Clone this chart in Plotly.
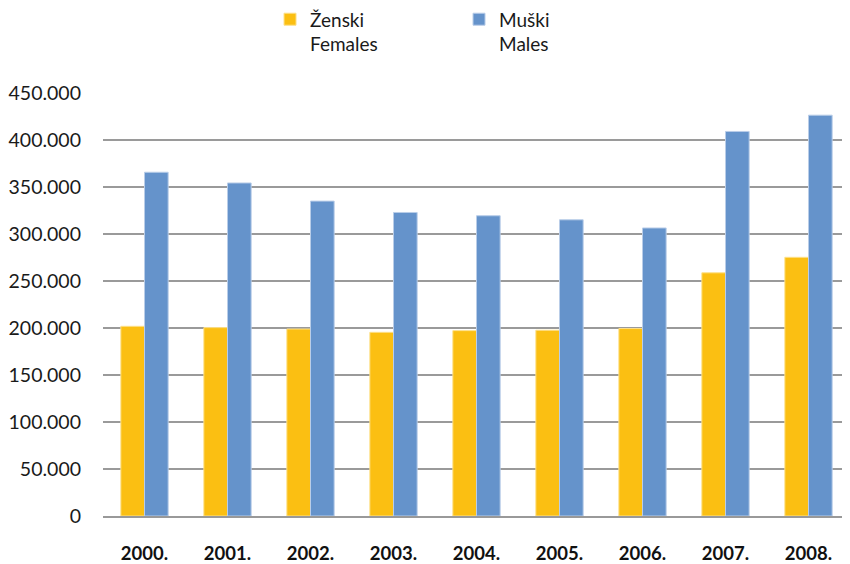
import plotly.graph_objects as go

years = ["2000.", "2001.", "2002.", "2003.", "2004.", "2005.", "2006.", "2007.", "2008."]
females = [201800, 200400, 198900, 195400, 197200, 197600, 199400, 258700, 275200]
males = [365700, 354300, 335000, 322900, 319400, 315100, 306400, 409100, 426400]
y_ticks = [0, 50000, 100000, 150000, 200000, 250000, 300000, 350000, 400000, 450000]

FONT = "Lato, 'Open Sans', sans-serif"

fig = go.Figure()
fig.add_trace(go.Bar(x=years, y=females, name="Ženski<br>Females",
                     marker=dict(color="#FBBF12", line=dict(color="#FDE08A", width=1))))
fig.add_trace(go.Bar(x=years, y=males, name="Muški<br>Males",
                     marker=dict(color="#6593CB", line=dict(color="#B9CDE8", width=1))))

# the page body adds an 8px offset; figure is sized to end at the window edge
fig.update_layout(
    width=842, height=556,
    margin=dict(l=95, r=0, t=85, b=48, autoexpand=False),
    paper_bgcolor="white", plot_bgcolor="white",
    separators=",.",
    barmode="group", bargap=0.43, bargroupgap=0,
    font=dict(family=FONT, color="#1a1a1a", size=19),
    legend=dict(orientation="h", x=0.2236, xanchor="left", y=1.219, yanchor="top",
                entrywidth=144, entrywidthmode="pixels",
                valign="top", font=dict(size=19), traceorder="normal"),
    showlegend=True,
)
fig.update_xaxes(showgrid=False, showline=True, linecolor="#999999", linewidth=1.5,
                 tickfont=dict(size=18.5, family=FONT, weight="bold", color="#111111"), ticks="",
                 ticklabelstandoff=20, automargin=False)
fig.update_yaxes(range=[0, 450000], tickvals=y_ticks, tickformat=",d",
                 showgrid=True, gridcolor="#9a9a9a", gridwidth=1.6,
                 zeroline=False, showline=False, ticks="", ticklabelstandoff=21,
                 tickfont=dict(size=19.5, family=FONT, color="#1a1a1a"), automargin=False)

fig.write_html("out.html")
